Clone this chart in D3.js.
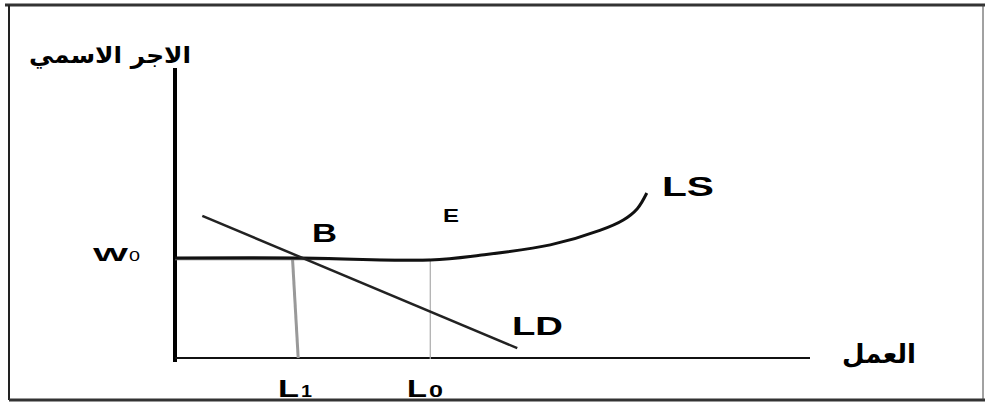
<!DOCTYPE html>
<html><head><meta charset="utf-8">
<script src="https://cdn.jsdelivr.net/npm/d3@7"></script>
<style>body{margin:0;background:#fff}svg{display:block}</style>
</head><body>
<svg id="c" width="985" height="406"></svg>
<script>
// Data (abstract units: labour 0..100, wage 0..100)
const wageLevel = 34.5;           // W0
const L1 = 19.4, L1top = 18.5;    // L1 (drawn slightly slanted)
const L0 = 40.2;                  // L0
const lsX = [0, 19.7, 40.2, 48.0, 59.1, 66.9, 70.6, 72.8, 74.3];
const lsY = [34.5, 34.5, 33.8, 35.4, 39.0, 44.0, 47.6, 51.5, 56.9];
const ldX = [4.3, 53.9];
const ldY = [49.0, 3.4];
const axisLabels = {y: "الاجر الاسمي", x: "العمل"};
const pointLabels = ["B", "E", "LS", "LD"];

const svg = d3.select("#c");
const x = d3.scaleLinear().domain([0, 100]).range([175, 810]);
const y = d3.scaleLinear().domain([0, 100]).range([358, 68]);

// frame
svg.append("line").attr("x1",5).attr("x2",985).attr("y1",5).attr("y2",5).attr("stroke","#333").attr("stroke-width",3);
svg.append("line").attr("x1",9).attr("x2",9).attr("y1",5).attr("y2",400).attr("stroke","#222").attr("stroke-width",2);
svg.append("line").attr("x1",9).attr("x2",985).attr("y1",400).attr("y2",400).attr("stroke","#333").attr("stroke-width",3);
svg.append("line").attr("x1",983).attr("x2",983).attr("y1",5).attr("y2",400).attr("stroke","#444").attr("stroke-width",1);

// axes
svg.append("line").attr("x1",x(0)).attr("x2",x(0)).attr("y1",y(100)).attr("y2",y(0)+4).attr("stroke","#000").attr("stroke-width",4);
svg.append("line").attr("x1",x(0)).attr("x2",x(100)).attr("y1",y(0)).attr("y2",y(0)).attr("stroke","#111").attr("stroke-width",2);

// guide lines
svg.append("line").attr("x1",x(L1top)).attr("x2",x(L1)).attr("y1",y(wageLevel)).attr("y2",y(0))
  .attr("stroke","#999").attr("stroke-width",3);
svg.append("line").attr("x1",x(L0)).attr("x2",x(L0)).attr("y1",y(lsY[2])).attr("y2",y(0)+1)
  .attr("stroke","#aaa").attr("stroke-width",1.2);
svg.append("line").attr("x1",x(0)).attr("x2",x(L0)).attr("y1",y(wageLevel)+1.5).attr("y2",y(wageLevel)+1.5)
  .attr("stroke","#777").attr("stroke-width",1.5);

// LS curve
const lsPts = lsX.map((d,i)=>[d, lsY[i]]);
svg.append("path").datum(lsPts)
  .attr("d", d3.line().x(d=>x(d[0])).y(d=>y(d[1])).curve(d3.curveCatmullRom.alpha(0.5)))
  .attr("fill","none").attr("stroke","#111").attr("stroke-width",3);

// LD line
const ldPts = ldX.map((d,i)=>[d, ldY[i]]);
svg.append("path").datum(ldPts)
  .attr("d", d3.line().x(d=>x(d[0])).y(d=>y(d[1])))
  .attr("fill","none").attr("stroke","#222").attr("stroke-width",2.5);

const font = "'Liberation Sans', Arial, sans-serif";
function label(str, px, py, size, len, weight){
  return svg.append("text").attr("x",px).attr("y",py).attr("font-family",font)
    .attr("font-weight",weight||"bold").attr("font-size",size)
    .attr("textLength",len).attr("lengthAdjust","spacingAndGlyphs").text(str);
}

// axis titles
svg.append("text").attr("x",191).attr("y",63).attr("text-anchor","start")
  .attr("font-family","'DejaVu Sans', sans-serif").attr("font-weight","bold").attr("font-size",23)
  .attr("direction","rtl").attr("textLength",162).attr("lengthAdjust","spacingAndGlyphs").text(axisLabels.y);
svg.append("text").attr("x",916).attr("y",363).attr("text-anchor","start")
  .attr("font-family","'DejaVu Sans', sans-serif").attr("font-weight","bold").attr("font-size",26)
  .attr("direction","rtl").text(axisLabels.x);

// W0
label("W", 93, 261, 19, 35);
label("0", 129, 261, 15, 11, "normal");

// point labels
label(pointLabels[0], 312, 242, 26, 25);
label(pointLabels[1], 443, 222, 18, 16);
label(pointLabels[2], 662, 196, 27, 52);
label(pointLabels[3], 512, 335, 25, 51);

// L1, L0
label("L", 278, 397, 23, 21);
label("1", 301, 397, 17, 11);
label("L", 407, 397, 23, 20);
label("0", 429, 397, 17, 14);
</script>
</body></html>
